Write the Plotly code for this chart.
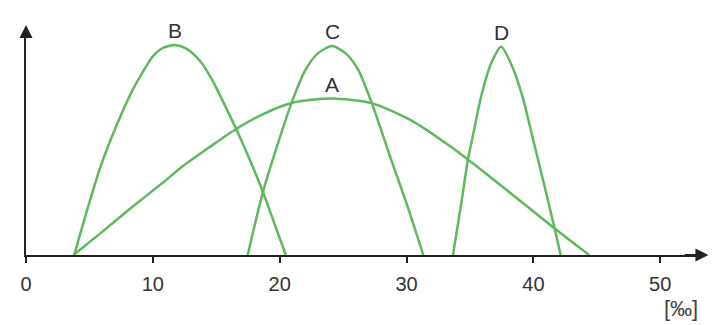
import plotly.graph_objects as go

# Curve data (x in ‰, y in relative units)
a_x = [3.75, 6.0, 8.2, 10.8, 12.4, 14.5, 16.56, 18.65, 21.0, 24.1, 27.3, 30.4, 33.5, 36.0, 38.5, 41.5, 44.4]
a_y = [0, 11, 22, 34.5, 42.5, 51.5, 60, 67, 72.5, 74.5, 72.2, 64, 51.5, 40, 28, 13.5, 0]

b_x = [3.8, 4.8, 5.85, 7.16, 8.46, 9.5, 10.03, 10.8, 11.73, 12.64, 13.69, 14.73, 15.65, 16.56, 17.61, 18.65, 19.57, 20.48]
b_y = [0, 21, 41.6, 62, 79.2, 90.1, 94.8, 98.6, 100, 98.3, 92.6, 82.8, 71.6, 60.1, 45.8, 30.5, 15.2, 0]

c_x = [17.48, 18.7, 19.8, 20.95, 22.0, 23.0, 24.14, 25.2, 26.15, 27.27, 28.8, 30.1, 31.32]
c_y = [0, 30.5, 52, 72.7, 87.8, 96, 99.5, 96, 88.6, 72.2, 45.2, 22.8, 0]

d_x = [33.66, 34.33, 34.85, 35.24, 35.89, 36.68, 37.46, 38.24, 39.16, 39.94, 40.85, 41.64, 42.15]
d_y = [0, 25.2, 45.8, 57, 75.7, 91.4, 99.2, 91.1, 75.1, 55.9, 33.5, 13.5, 0]

series_names = ["A", "B", "C", "D"]
tick_values = [0, 10, 20, 30, 40, 50]
tick_labels = ["0", "10", "20", "30", "40", "50"]
unit_label = "[‰]"

GREEN = "#5cba5a"
AXIS = "#222222"
FONT = "Liberation Sans, Arial, sans-serif"

fig = go.Figure()
series = [(a_x, a_y), (b_x, b_y), (c_x, c_y), (d_x, d_y)]
for name, (xs, ys) in zip(series_names, series):
    fig.add_trace(go.Scatter(
        x=xs, y=ys, mode="lines", name=name,
        line=dict(color=GREEN, width=2.5, shape="spline", smoothing=0.7),
        cliponaxis=False, showlegend=False, hoverinfo="skip",
    ))
    # label above the peak
    i = ys.index(max(ys))
    fig.add_annotation(
        x=xs[i], y=ys[i], text=name, showarrow=False,
        yanchor="bottom", yshift=1,
        font=dict(family=FONT, size=21, color="#333333"),
    )

# page body has an 8px margin, so the figure is 8px smaller and shifted
x_max = 678 / 12.76
y_max = 225 / 2.1

# axis arrows
fig.add_annotation(x=53.8, y=0, ax=51.8, ay=0, axref="x", ayref="y",
                   xref="x", yref="y", text="", showarrow=True,
                   arrowhead=2, arrowsize=1.3, arrowwidth=2, arrowcolor=AXIS)
fig.add_annotation(x=0, y=109.5, ax=0, ay=103, axref="x", ayref="y",
                   xref="x", yref="y", text="", showarrow=True,
                   arrowhead=2, arrowsize=1.3, arrowwidth=2, arrowcolor=AXIS)

# unit label
fig.add_annotation(x=1.0, y=0, xref="paper", yref="paper", text=unit_label,
                   showarrow=False, xanchor="center", yanchor="middle",
                   xshift=-19, yshift=-53,
                   font=dict(family=FONT, size=22, color="#444444"))

fig.update_xaxes(
    range=[0, x_max], showgrid=False, zeroline=False,
    showline=True, linecolor=AXIS, linewidth=2,
    ticks="outside", ticklen=6, tickwidth=1.5, tickcolor=AXIS,
    tickvals=tick_values, ticktext=tick_labels,
    tickfont=dict(family=FONT, size=20, color="#333333"),
    ticklabelstandoff=4,
)
fig.update_yaxes(
    range=[0, y_max], showgrid=False, zeroline=False,
    showline=True, linecolor=AXIS, linewidth=2,
    showticklabels=False, ticks="",
)
fig.update_layout(
    width=715, height=317,
    margin=dict(l=14, r=23, t=22, b=70),
    plot_bgcolor="white", paper_bgcolor="white",
)

fig.write_html("out.html")
